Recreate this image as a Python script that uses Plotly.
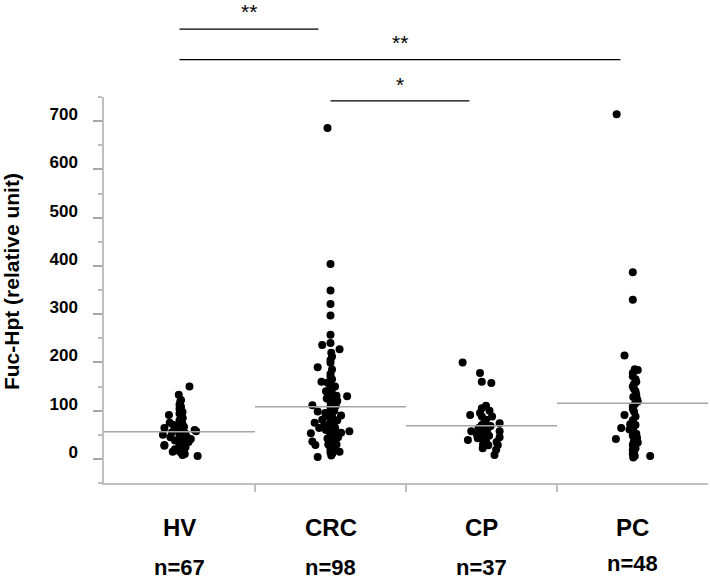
import plotly.graph_objects as go

# ---------------- data ----------------
groups = ["HV", "CRC", "CP", "PC"]
group_n = ["n=67", "n=98", "n=37", "n=48"]
group_means = [56, 108, 68.5, 115.5]

hv_values = [150, 133, 122, 119, 101, 91, 75, 64, 50, 60, 57, 41, 29, 27, 15, 8, 6, 10,
             112, 108, 104, 97, 94, 88, 84, 80, 77, 72, 69, 66, 63, 60, 58, 56, 54, 52, 50,
             48, 46, 44, 42, 40, 38, 36, 34, 32, 30, 28, 25, 22, 20, 18, 16, 13, 12,
             70, 55, 52, 45, 38, 35, 45, 24, 62, 66, 85, 20]
hv_jitter = [0.066, -0.005, 0.01, 0.005, 0.01, -0.07, -0.065, -0.1, -0.11, 0.1, 0.11, 0.075, -0.1, -0.1, -0.045, 0.02, 0.12, 0.035,
             0.0, 0.01, 0.0, 0.02, 0.0, 0.01, 0.02, 0.0, 0.01, 0.02, 0.0, 0.01, 0.02, 0.0, 0.01, 0.02, 0.0, 0.01, 0.02,
             0.0, 0.01, 0.02, 0.0, 0.01, 0.02, 0.0, 0.01, 0.02, 0.0, 0.01, 0.02, 0.0, 0.01, 0.02, 0.0, 0.01, 0.02,
             -0.04, -0.05, 0.04, 0.05, -0.03, 0.06, -0.06, 0.04, -0.02, 0.03, 0.02, -0.03]

crc_values = [686, 404, 349, 321, 297, 257, 236, 227, 220, 199, 190, 176, 160, 158, 130, 131, 111, 98, 90, 81,
              75, 64, 57, 54, 53, 36, 29, 15, 4, 7,
              240, 212, 205, 185, 170, 165, 150, 145, 140, 135, 126, 122, 118, 114, 108, 104, 100, 96, 92, 88,
              85, 82, 79, 76, 73, 70, 67, 64, 61, 58, 55, 52, 49, 46, 43, 40, 37, 34, 31, 28, 25, 22, 19, 16, 13, 10,
              150, 140, 110, 95, 80, 70, 65, 45, 42, 30, 20, 60, 100, 120, 125, 38, 48, 88, 72, 58, 30, 12]
crc_jitter = [-0.02, 0.0, 0.0, 0.0, 0.0, 0.0, -0.055, 0.06, 0.005, 0.0, -0.085, 0.0, -0.06, -0.02, 0.11, 0.04, -0.12, -0.085, 0.07, -0.055,
              -0.105, -0.075, 0.125, 0.07, -0.13, -0.12, -0.1, 0.06, -0.085, 0.005,
              0.0, 0.01, 0.0, 0.01, 0.0, 0.01, 0.0, 0.01, 0.0, 0.01, 0.0, 0.01, 0.0, 0.01, 0.0, 0.01, 0.0, 0.01, 0.0, 0.01,
              0.0, 0.01, 0.0, 0.01, 0.0, 0.01, 0.0, 0.01, 0.0, 0.01, 0.0, 0.01, 0.0, 0.01, 0.0, 0.01, 0.0, 0.01, 0.0, 0.01, 0.0, 0.01, 0.0, 0.01, 0.0, 0.01,
              0.03, -0.03, 0.035, -0.035, 0.045, -0.04, 0.03, 0.05, -0.02, 0.04, 0.02, -0.03, 0.025, 0.045, -0.025, 0.03, 0.02, -0.01, 0.015, 0.035, -0.015, 0.01]

cp_values = [200, 178, 160, 157, 105, 100, 91, 88, 88, 81, 74, 70, 57, 45, 57, 53, 39, 43, 32, 22, 29, 19, 8,
             62, 48, 95, 110, 68, 64, 40, 36, 35, 50, 76, 28, 30, 60]
cp_jitter = [-0.125, -0.01, 0.002, 0.065, 0.002, 0.053, -0.075, 0.07, 0.002, 0.03, 0.12, 0.002, 0.12, 0.12, -0.068, 0.008, -0.09, -0.025, 0.02, 0.008, 0.108, 0.097, 0.086,
             0.04, 0.05, -0.01, 0.03, 0.06, -0.02, 0.015, 0.03, 0.1, -0.03, 0.02, 0.045, 0.01, -0.005]

pc_values = [714, 387, 330, 214, 186, 184, 171, 160, 150, 133, 119, 108, 98, 91, 64, 41, 6,
             178, 165, 155, 140, 128, 124, 113, 103, 80, 75, 70, 65, 61, 57, 52, 48, 44, 38, 34, 30, 26, 22, 18, 14, 10, 6, 3,
             72, 88, 145, 36]
pc_jitter = [-0.105, 0.002, 0.002, -0.053, 0.015, 0.035, 0.002, 0.025, 0.002, 0.025, 0.035, 0.002, 0.01, -0.053, -0.075, -0.11, 0.117,
             0.002, 0.02, 0.01, 0.02, 0.005, 0.03, 0.015, 0.003, 0.002, 0.003, 0.02, 0.005, -0.02, 0.002, 0.025, 0.002, 0.03, 0.01, 0.035, 0.002, 0.005, 0.02, 0.002, 0.01, 0.002, 0.015, 0.005,
             -0.015, 0.02, 0.01, 0.025]

all_values = [hv_values, crc_values, cp_values, pc_values]
all_jitter = [hv_jitter, crc_jitter, cp_jitter, pc_jitter]

# significance comparisons: (group i, group j, label, bar level in paper coords, label level)
comparisons = [(0, 1, "**", 1.176, 1.222), (0, 3, "**", 1.097, 1.140), (1, 2, "*", 0.990, 1.032)]

y_ticks = [0, 100, 200, 300, 400, 500, 600, 700]

# ---------------- figure ----------------
FONT = "Liberation Sans, Arial, sans-serif"
fig = go.Figure()

for k, (vals, jit) in enumerate(zip(all_values, all_jitter)):
    fig.add_trace(go.Scatter(
        x=[k + 0.5 + j for j in jit], y=vals, mode="markers",
        marker=dict(color="black", size=8, line=dict(width=0)),
        showlegend=False, hoverinfo="y"))

for k, m in enumerate(group_means):
    fig.add_trace(go.Scatter(
        x=[k, k + 1], y=[m, m], mode="lines",
        line=dict(color="#a6a6a6", width=1.5),
        showlegend=False, hoverinfo="skip"))

shapes = []
annotations = []
for i, j, lab, ylev, tlev in comparisons:
    shapes.append(dict(type="line", xref="x", yref="paper",
                       x0=i + 0.5, x1=j + 0.42, y0=ylev, y1=ylev,
                       line=dict(color="black", width=1.3)))
    annotations.append(dict(xref="x", yref="paper", x=(i + 0.5 + j + 0.42) / 2, y=tlev,
                            text=lab, showarrow=False, yanchor="middle",
                            font=dict(family=FONT, size=21, color="black")))

for k, (g, n) in enumerate(zip(groups, group_n)):
    annotations.append(dict(xref="x", yref="paper", x=k + 0.5, y=-0.114, text=g,
                            showarrow=False, yanchor="middle",
                            font=dict(family=FONT, size=24, color="black", weight="bold")))
    annotations.append(dict(xref="x", yref="paper", x=k + 0.5, y=-0.218 if k < 3 else -0.208, text=n,
                            showarrow=False, yanchor="middle",
                            font=dict(family=FONT, size=22, color="black", weight="bold")))

annotations.append(dict(xref="paper", yref="paper", x=-0.152, y=0.521,
                        text="Fuc-Hpt (relative unit)", textangle=-90, showarrow=False,
                        xanchor="center", yanchor="middle",
                        font=dict(family=FONT, size=21, color="black", weight="bold")))

fig.update_layout(
    width=710, height=579,
    margin=dict(l=104, r=2, t=97, b=96),
    plot_bgcolor="white", paper_bgcolor="white",
    shapes=shapes, annotations=annotations,
    xaxis=dict(range=[0, 4], showgrid=False, zeroline=False, showline=True,
               linecolor="#bfbfbf", linewidth=1.5,
               tickmode="array", tickvals=[1, 2, 3], ticks="outside", ticklen=7,
               tickcolor="#bfbfbf", tickwidth=1.5, showticklabels=False),
    yaxis=dict(range=[-50, 750], showgrid=False, zeroline=False, showline=True,
               linecolor="#bfbfbf", linewidth=1.5,
               tickmode="array", tickvals=y_ticks, ticks="outside", ticklen=9,
               tickcolor="#a6a6a6", tickwidth=1.5,
               minor=dict(dtick=50, tick0=0, ticks="outside", ticklen=4, tickcolor="#bfbfbf", tickwidth=1.5),
               tickfont=dict(family=FONT, size=17, color="black", weight="bold"),
               ticklabelstandoff=12, ticklabelshift=-7),
)

# remove the browser's default 8 px body margin so the figure sits at the page origin
fig.write_html("out.html", config={"displayModeBar": False},
               post_script="document.body.style.margin='0';document.body.style.overflow='hidden';")
